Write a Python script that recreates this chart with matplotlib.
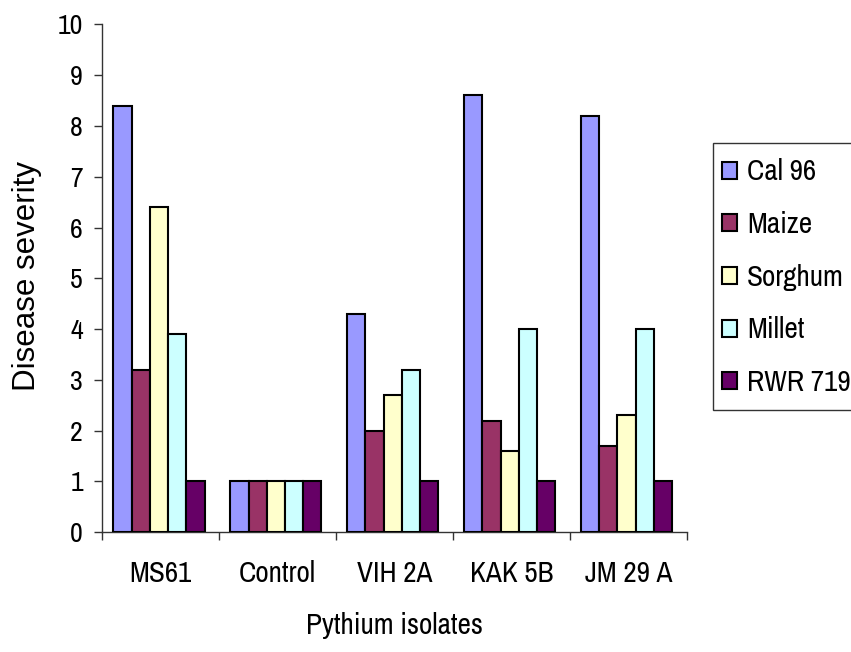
import matplotlib
matplotlib.use("Agg")
import matplotlib.pyplot as plt
from matplotlib.patches import Rectangle
import numpy as np

plt.rcParams['font.family'] = ['Liberation Sans Narrow', 'Arial Narrow', 'Nimbus Sans Narrow',
                               'Archivo Narrow', 'Liberation Sans', 'DejaVu Sans']

isolates = ["MS61", "Control", "VIH 2A", "KAK 5B", "JM 29 A"]
series_names = ["Cal 96", "Maize", "Sorghum", "Millet", "RWR 719"]
cal96 = [8.4, 1.0, 4.3, 8.6, 8.2]
maize = [3.2, 1.0, 2.0, 2.2, 1.7]
sorghum = [6.4, 1.0, 2.7, 1.6, 2.3]
millet = [3.9, 1.0, 3.2, 4.0, 4.0]
rwr719 = [1.0, 1.0, 1.0, 1.0, 1.0]
series_values = [cal96, maize, sorghum, millet, rwr719]
colors = ["#9999FF", "#993366", "#FFFFCC", "#CCFFFF", "#660066"]

W, H = 851, 652
fig = plt.figure(figsize=(W / 100, H / 100), dpi=100)
ax = fig.add_axes([0.1202, 0.1836, 0.6868, 0.7791])

x = np.arange(len(isolates))
bw = 0.156
handles = []
for j, (name, vals, c) in enumerate(zip(series_names, series_values, colors)):
    b = ax.bar(x + (j - 2) * bw - 0.015, vals, width=bw, color=c,
               edgecolor="black", linewidth=1.5, label=name, zorder=3)
    handles.append(b)

ax.set_xlim(-0.5, len(isolates) - 0.5)
ax.set_ylim(0, 10)
ax.set_yticks(range(0, 11))
ax.tick_params(axis="y", direction="out", length=6, width=1, labelsize=20,
               pad=8, color="#333333")

# category boundaries carry the tick marks, centres carry the labels
ax.set_xticks(np.arange(-0.5, len(isolates)), labels=[""] * (len(isolates) + 1))
ax.set_xticks(x, labels=isolates, minor=True)
ax.tick_params(axis="x", which="major", direction="out", length=6, width=1,
               color="#333333")
ax.tick_params(axis="x", which="minor", length=0, labelsize=21, pad=20)

for s in ["top", "right"]:
    ax.spines[s].set_visible(False)
for s in ["left", "bottom"]:
    ax.spines[s].set_color("#333333")
    ax.spines[s].set_linewidth(1.0)

ax.set_ylabel("Disease severity", fontsize=22.5,
              family=["Liberation Sans", "DejaVu Sans"])
ax.yaxis.set_label_coords(-0.104, 0.505)
ax.set_xlabel("Pythium isolates", fontsize=21, labelpad=18)

# legend box reaching past the right edge of the figure
fig.patches.append(Rectangle((712.7 / W, (H - 410) / H), 0.3, (410 - 143) / H,
                             transform=fig.transFigure, facecolor="white",
                             edgecolor="#333333", linewidth=1.0, zorder=1))
leg = fig.legend(handles=handles, labels=series_names, loc="upper left",
                 bbox_to_anchor=(722 / W, (H - 158.5) / H), frameon=False,
                 fontsize=21, handlelength=0.52, handleheight=0.52,
                 handletextpad=0.33, labelspacing=0.88, borderpad=0,
                 borderaxespad=0)
leg.set_zorder(5)

fig.savefig("out.png", dpi=100)
